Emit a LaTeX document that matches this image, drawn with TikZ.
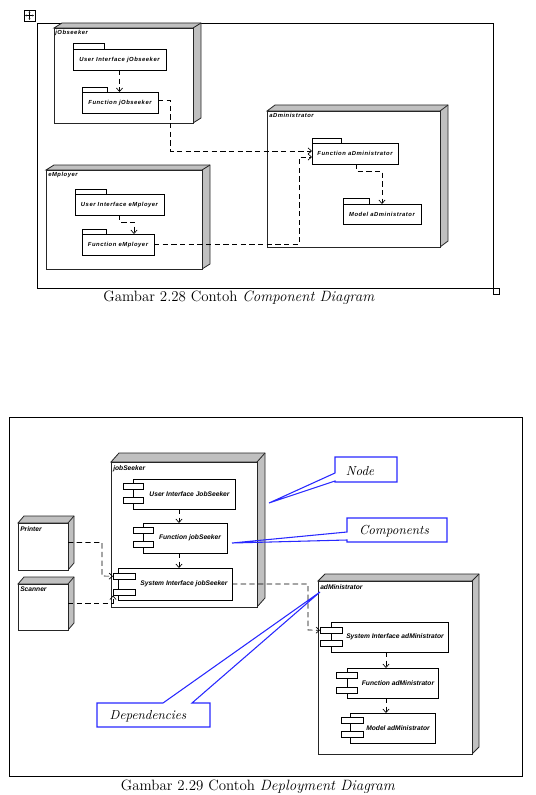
\documentclass[tikz,border=0pt]{standalone}
\usepackage{fontspec}
\newfontfamily\labfontw[LetterSpace=9]{Liberation Sans}
\newfontfamily\labfont{Liberation Sans}
\usetikzlibrary{arrows.meta,fit,calc}
\definecolor{cubegray}{RGB}{192,192,192}
\definecolor{callblue}{RGB}{40,40,255}
\tikzset{
  cubeedge/.style={line width=0.6pt, draw=black!85},
  box/.style={line width=0.55pt, draw=black},
  frame/.style={line width=0.7pt, draw=black},
  dep/.style={line width=0.5pt, dash pattern=on 4pt off 2.5pt, -{Straight Barb[length=2.6pt,width=4.6pt]}},
  lbltop/.style={font=\labfontw\bfseries\itshape\fontsize{4.4}{5}\selectfont, inner sep=0pt},
  lblbot/.style={font=\labfont\bfseries\itshape\fontsize{5}{6}\selectfont, inner sep=0pt},
  caption/.style={font=\fontsize{11.2}{13}\selectfont, inner sep=0pt},
  callout/.style={draw=callblue, line width=0.8pt, line join=miter},
  calltext/.style={font=\itshape\fontsize{9.8}{11}\selectfont, inner sep=0pt},
}
% 3D node: name, x1, y1, x2, y2, dx, dy(up)
\newcommand{\cubebox}[7]{%
  \filldraw[cubeedge, fill=cubegray] (#2,#3) -- ({#2+#6},{#3-#7}) -- ({#4+#6},{#3-#7}) -- ({#4+#6},{#5-#7}) -- (#4,#5) -- (#4,#3) -- cycle;
  \draw[cubeedge] (#4,#3) -- ({#4+#6},{#3-#7});
  \node[cubeedge, draw, fill=white, inner sep=0pt, outer sep=0pt, fit={(#2,#3) (#4,#5)}] (#1) {};
}
% package: name, x1, tab top, tab x2, body top, body x2, body bottom, text
\newcommand{\pkgbox}[8]{%
  \draw[box] (#2,#3) rectangle (#4,#5);
  \node[box, draw, fill=white, inner sep=0pt, outer sep=0pt, fit={(#2,#5) (#6,#7)}] (#1) {};
  \node[lbltop] (#1t) at (#1.center) {#8};
}
% component: name, x1, y1, x2, y2, sx1, sx2, sy1, sy2
\newcommand{\compbox}[9]{%
  \node[box, draw, fill=white, inner sep=0pt, outer sep=0pt, fit={(#2,#3) (#4,#5)}] (#1) {};
  \node[box, draw, fill=white, inner sep=0pt, outer sep=0pt, fit={(#6,#8) (#7,{#8+6.5})}] (#1a) {};
  \node[box, draw, fill=white, inner sep=0pt, outer sep=0pt, fit={(#6,#9) (#7,{#9+6.5})}] (#1b) {};
}
\begin{document}
\begin{tikzpicture}[x=0.75pt,y=-0.75pt]
\useasboundingbox (0,0) rectangle (535,795);

% ================= Component diagram =================
\node[draw, line width=0.6pt, minimum size=8.25pt, inner sep=0pt] (move) at (29.5,15.5) {};
\draw[line width=0.4pt, {Latex[length=1.3pt,width=1.6pt]}-{Latex[length=1.3pt,width=1.6pt]}] ($(move.center)+(0,-4.5)$) -- ($(move.center)+(0,4.5)$);
\draw[line width=0.4pt, {Latex[length=1.3pt,width=1.6pt]}-{Latex[length=1.3pt,width=1.6pt]}] ($(move.center)+(-4.5,0)$) -- ($(move.center)+(4.5,0)$);

\node[frame, draw, inner sep=0pt, outer sep=0pt, fit={(37,23) (493,288)}] (frameA) {};
\node[draw, line width=0.5pt, fill=white, inner sep=0pt, minimum size=4.5pt] (handle) at (496,291) {};

\cubebox{jobs}{54}{28}{193}{123}{8}{5}
\node[lbltop, anchor=north west] (jobsL) at (55,30) {jObseeker};
\pkgbox{uiJ}{73}{43}{104}{49}{166}{70}{User Interface jObseeker}
\pkgbox{fnJ}{82}{87}{107}{92}{158}{113}{Function jObseeker}

\cubebox{emp}{46}{170}{202}{269}{8}{5}
\node[lbltop, anchor=north west] (empL) at (48,172) {eMployer};
\pkgbox{uiE}{75}{189}{106}{194}{164}{215}{User Interface eMployer}
\pkgbox{fnE}{82}{229}{106}{234}{154}{255}{Function eMployer}

\cubebox{adm}{267}{111}{440}{247}{8}{6}
\node[lbltop, anchor=north west] (admL) at (269,113) {aDministrator};
\pkgbox{fnA}{312}{138}{341}{143}{398}{164}{Function aDministrator}
\pkgbox{mdA}{343}{198}{369}{204}{421}{224}{Model aDministrator}

\draw[dep] (uiJ.south) -- (uiJ.south |- fnJ.north);
\draw[dep] ($(fnJ.east)+(0,-2)$) -| (170,151) -- ($(fnA.west)+(0,-2.5)$);
\draw[dep] (fnE.east) -| (299,157) -- ($(fnA.west)+(0,3.5)$);
\draw[dep] (uiE.south) |- (134,222) -- (134,234);
\draw[dep] (356,164) |- (382,171) -- (382,204);

\node[caption] (capA) at (239,298) {Gambar 2.28 Contoh \textit{Component Diagram}};

% ================= Deployment diagram =================
\node[frame, draw, inner sep=0pt, outer sep=0pt, fit={(9,417) (522,776)}] (frameB) {};

\cubebox{js}{111}{462}{257}{607}{8}{9}
\node[lblbot, anchor=north west] (jsL) at (113,465) {jobSeeker};
\compbox{uiJS}{133}{479}{235}{509}{123}{143}{483}{497}
\node[lblbot] (uiJSt) at (189.5,494) {User Interface JobSeeker};
\compbox{fnJS}{143}{523}{227}{553}{133}{153}{527}{541}
\node[lblbot] (fnJSt) at (190,538) {Function jobSeeker};
\compbox{siJS}{118}{568}{232}{600}{113}{135}{573}{589}
\node[lblbot] (siJSt) at (184,584) {System Interface jobSeeker};

\cubebox{pr}{18}{523}{68}{570}{6}{7}
\node[lblbot, anchor=north west] (prL) at (20,526) {Printer};
\cubebox{sc}{18}{584}{68}{630}{6}{7}
\node[lblbot, anchor=north west] (scL) at (20,587) {Scanner};

\cubebox{ad}{318}{581}{472}{754}{7}{7}
\node[lblbot, anchor=north west] (adL) at (320,584) {adMinistrator};
\compbox{siA}{331}{622}{448}{652}{320}{342}{627}{640}
\node[lblbot] (siAt) at (395,637) {System Interface adMinistrator};
\compbox{fnA2}{347}{668}{438}{698}{336}{357}{672}{687}
\node[lblbot] (fnA2t) at (398,683) {Function adMinistrator};
\compbox{mdA2}{350}{713}{435}{743}{341}{363}{717}{731}
\node[lblbot] (mdA2t) at (398,728) {Model adMinistrator};

\draw[dep] (179,509) -- (179,523);
\draw[dep] (179,553) -- (179,568);
\draw[dep] (386,652) -- (386,668);
\draw[dep] (386,698) -- (386,713);
\draw[dep] ($(pr.east)+(0,-4)$) -| (102,576) -- (siJSa.west);
\draw[dep] ($(sc.east)+(0,-4)$) -| (siJSb.south west);
\draw[dep] (siJS.east) -| (308,630) -- (siAa.west);

% callouts
\draw[callout] (335,457) -- (397,457) -- (397,482) -- (335,482) -- (335,481) -- (269,503) -- (335,473) -- cycle;
\node[calltext] (nodeT) at (360,471) {Node};
\draw[callout] (347,518) -- (447,518) -- (447,542) -- (347,542) -- (347,540) -- (232,543) -- (347,532) -- cycle;
\node[calltext] (compT) at (394,531) {Components};
\draw[callout] (97,703) -- (163,703) -- (320,592) -- (192,703) -- (210,703) -- (210,727) -- (97,727) -- cycle;
\node[calltext] (depT) at (148,716) {Dependencies};

\node[caption] (capB) at (258,787) {Gambar 2.29 Contoh \textit{Deployment Diagram}};
\end{tikzpicture}
\end{document}
